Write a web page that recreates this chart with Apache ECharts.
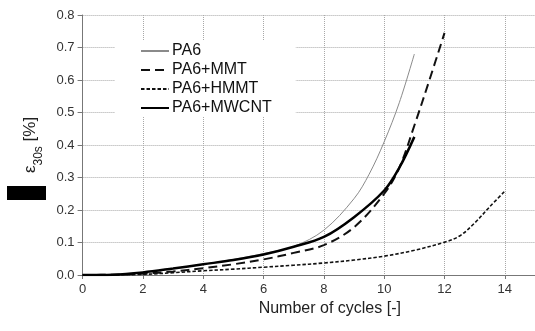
<!DOCTYPE html>
<html><head><meta charset="utf-8">
<script src="https://cdn.jsdelivr.net/npm/echarts@6/dist/echarts.min.js"></script>
<style>html,body{margin:0;padding:0;background:#fff}#c{width:535px;height:331px}</style>
</head><body><div id="c"></div>
<script>
const seriesNames = ['PA6', 'PA6+MMT', 'PA6+HMMT', 'PA6+MWCNT'];
const xPA6 = [0, 1, 2, 3, 4, 5, 6, 7, 8, 9, 9.5, 10, 10.5, 11];
const yPA6 = [0, 0.001, 0.008, 0.02, 0.033, 0.048, 0.066, 0.088, 0.138, 0.235, 0.31, 0.41, 0.53, 0.68];
const xMMT = [0, 1, 2, 3, 4, 5, 6, 7, 8, 9, 10, 10.5, 11, 11.5, 12];
const yMMT = [0, 0.001, 0.004, 0.011, 0.021, 0.033, 0.048, 0.068, 0.092, 0.147, 0.25, 0.33, 0.46, 0.6, 0.745];
const xHMMT = [0, 1, 2, 3, 4, 5, 6, 7, 8, 9, 10, 11, 12, 12.5, 13, 13.5, 14];
const yHMMT = [0, 0, 0.002, 0.007, 0.013, 0.018, 0.024, 0.03, 0.037, 0.046, 0.058, 0.076, 0.101, 0.12, 0.16, 0.21, 0.258];
const xMWCNT = [0, 1, 2, 3, 4, 5, 6, 7, 8, 9, 10, 10.5, 11];
const yMWCNT = [0, 0.001, 0.008, 0.02, 0.033, 0.046, 0.063, 0.087, 0.117, 0.178, 0.26, 0.33, 0.425];
const xTicks = [0, 2, 4, 6, 8, 10, 12, 14];

const zip = (xs, ys) => xs.map((x, i) => [x, ys[i]]);
const chart = echarts.init(document.getElementById('c'), null, {renderer: 'canvas'});
const font = 'Liberation Sans, Arial, sans-serif';
const grid = '#a8a8a8';
const base = {type: 'line', showSymbol: false, symbol: 'none', smooth: 0.35};
chart.setOption({
  animation: false,
  backgroundColor: '#fff',
  grid: {left: 82.6, right: -2, top: 15, bottom: 56, containLabel: false},
  xAxis: {
    type: 'value', min: 0, max: 15, interval: 2,
    name: 'Number of cycles [-]', nameLocation: 'middle', nameGap: 26,
    nameTextStyle: {fontFamily: font, fontSize: 16, color: '#222', padding: [0, 0, 0, 42]},
    axisLine: {lineStyle: {color: '#777', width: 1}},
    axisTick: {show: true, length: 4, lineStyle: {color: '#777'}},
    axisLabel: {fontFamily: font, fontSize: 13, color: '#333', margin: 8, showMaxLabel: false,
      formatter: v => xTicks.includes(v) ? String(v) : ''},
    splitLine: {show: true, lineStyle: {color: grid, type: [1, 1], width: 1}}
  },
  yAxis: {
    type: 'value', min: 0, max: 0.8, interval: 0.1,
    name: '{e|ε}{s|30s}{n| [%]}', nameLocation: 'middle', nameGap: 44, nameRotate: 90,
    nameTextStyle: {fontFamily: font, color: '#222',
      rich: {
        e: {fontFamily: font, fontSize: 17, color: '#222', verticalAlign: 'bottom', lineHeight: 22},
        s: {fontFamily: font, fontSize: 12, color: '#222', verticalAlign: 'bottom', lineHeight: 14, padding: [0, 0, -6, 0]},
        n: {fontFamily: font, fontSize: 17, color: '#222', verticalAlign: 'bottom', lineHeight: 22}
      }},
    axisLine: {show: true, lineStyle: {color: '#777', width: 1}},
    axisTick: {show: true, length: 5, lineStyle: {color: '#777'}},
    axisLabel: {fontFamily: font, fontSize: 13, color: '#333', margin: 8, formatter: v => v.toFixed(1)},
    splitLine: {show: true, lineStyle: {color: grid, type: [1, 1], width: 1}}
  },
  legend: {
    orient: 'vertical', left: 115, top: 40,
    backgroundColor: '#fff', padding: [3, 24, 1, 25], itemGap: 3,
    itemWidth: 28, itemHeight: 16,
    itemStyle: {opacity: 0},
    textStyle: {fontFamily: font, fontSize: 16, color: '#111', padding: [0, 0, 0, -2]},
    data: seriesNames
  },
  graphic: [{type: 'rect', shape: {x: 7, y: 186, width: 39, height: 14}, style: {fill: '#000'}, z: 100}],
  series: [
    Object.assign({}, base, {name: seriesNames[0], data: zip(xPA6, yPA6), z: 3,
      lineStyle: {color: '#8a8a8a', width: 1}, itemStyle: {color: '#8a8a8a'}}),
    Object.assign({}, base, {name: seriesNames[1], data: zip(xMMT, yMMT), z: 4,
      lineStyle: {color: '#111', width: 2, type: [9, 5]}, itemStyle: {color: '#111'}}),
    Object.assign({}, base, {name: seriesNames[2], data: zip(xHMMT, yHMMT), z: 4,
      lineStyle: {color: '#111', width: 1.6, type: [3.5, 2]}, itemStyle: {color: '#111'}}),
    Object.assign({}, base, {name: seriesNames[3], data: zip(xMWCNT, yMWCNT), z: 5,
      lineStyle: {color: '#000', width: 2.5}, itemStyle: {color: '#000'}})
  ]
});
</script></body></html>
